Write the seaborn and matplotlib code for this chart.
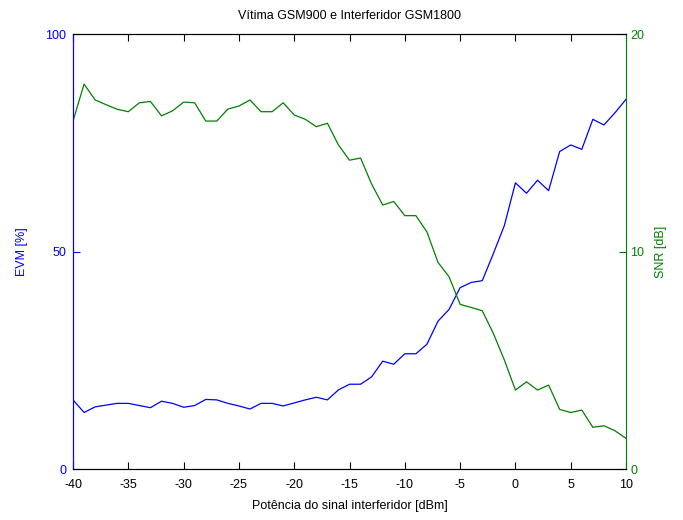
import numpy as np
import pandas as pd
import matplotlib
matplotlib.use("Agg")
import matplotlib.pyplot as plt
import seaborn as sns

# Potência do sinal interferidor [dBm]
potencia = list(range(-40, 11))

# EVM [%] (left axis)
evm = [15.9, 13.0, 14.3, 14.7, 15.1, 15.1, 14.6, 14.1, 15.6, 15.1,
       14.2, 14.6, 16.0, 15.9, 15.1, 14.5, 13.8, 15.1, 15.1, 14.5,
       15.2, 15.9, 16.5, 15.9, 18.2, 19.5, 19.5, 21.2, 24.8, 24.1,
       26.5, 26.5, 28.7, 34.0, 36.7, 41.7, 42.9, 43.3, 49.5, 56.0,
       65.8, 63.4, 66.4, 64.0, 73.0, 74.5, 73.5, 80.4, 79.1, 81.9,
       85.0]

# SNR [dB] (right axis)
snr = [16.0, 17.7, 16.97, 16.75, 16.54, 16.43, 16.84, 16.9, 16.24, 16.47,
       16.87, 16.84, 16.0, 16.0, 16.55, 16.69, 16.97, 16.43, 16.43, 16.84,
       16.28, 16.08, 15.74, 15.9, 14.9, 14.2, 14.3, 13.1, 12.14, 12.3,
       11.65, 11.65, 10.9, 9.5, 8.84, 7.57, 7.43, 7.28, 6.24, 5.01,
       3.63, 4.01, 3.63, 3.86, 2.74, 2.6, 2.71, 1.92, 1.99, 1.76,
       1.41]

df = pd.DataFrame({"potencia": potencia, "evm": evm, "snr": snr})

plt.rcParams["font.family"] = ["Liberation Sans", "DejaVu Sans"]
plt.rcParams["font.size"] = 9
plt.rcParams["axes.unicode_minus"] = False

blue = (0, 0, 1)
green = (0, 0.5, 0)

fig = plt.figure(figsize=(6.83, 5.2), dpi=100)
ax = fig.add_axes([0.1069, 0.098, 0.8097, 0.8365])
ax2 = ax.twinx()

sns.lineplot(data=df, x="potencia", y="evm", ax=ax, color=blue, linewidth=0.9)
sns.lineplot(data=df, x="potencia", y="snr", ax=ax2, color=green, linewidth=0.9)

ax.set_xlim(-40, 10)
ax.set_ylim(0, 100)
ax2.set_ylim(0, 20)
ax.set_xticks(range(-40, 11, 5))
ax.set_yticks([0, 50, 100])
ax2.set_yticks([0, 10, 20])

ax.set_title("Vítima GSM900 e Interferidor GSM1800", fontsize=9, pad=11)
ax.set_xlabel("Potência do sinal interferidor [dBm]", fontsize=9, labelpad=7)
ax.set_ylabel("EVM [%]", color=blue, fontsize=9, labelpad=12)
ax2.set_ylabel("SNR [dB]", color=green, fontsize=9, labelpad=8)

ax.tick_params(axis="x", direction="in", top=True, length=5, pad=7, colors="black")
ax.tick_params(axis="y", direction="in", length=5, pad=5, colors=blue, labelcolor=blue)
ax2.tick_params(axis="y", direction="in", length=5, pad=3, colors=green, labelcolor=green)

for a in (ax, ax2):
    a.spines["top"].set_color("black")
    a.spines["bottom"].set_color("black")
    for s in a.spines.values():
        s.set_linewidth(0.8)
ax.spines["left"].set_color(blue)
ax2.spines["left"].set_color(blue)
ax2.spines["right"].set_color(green)
ax.spines["right"].set_visible(False)

fig.savefig("out.png", dpi=100, facecolor="white")
